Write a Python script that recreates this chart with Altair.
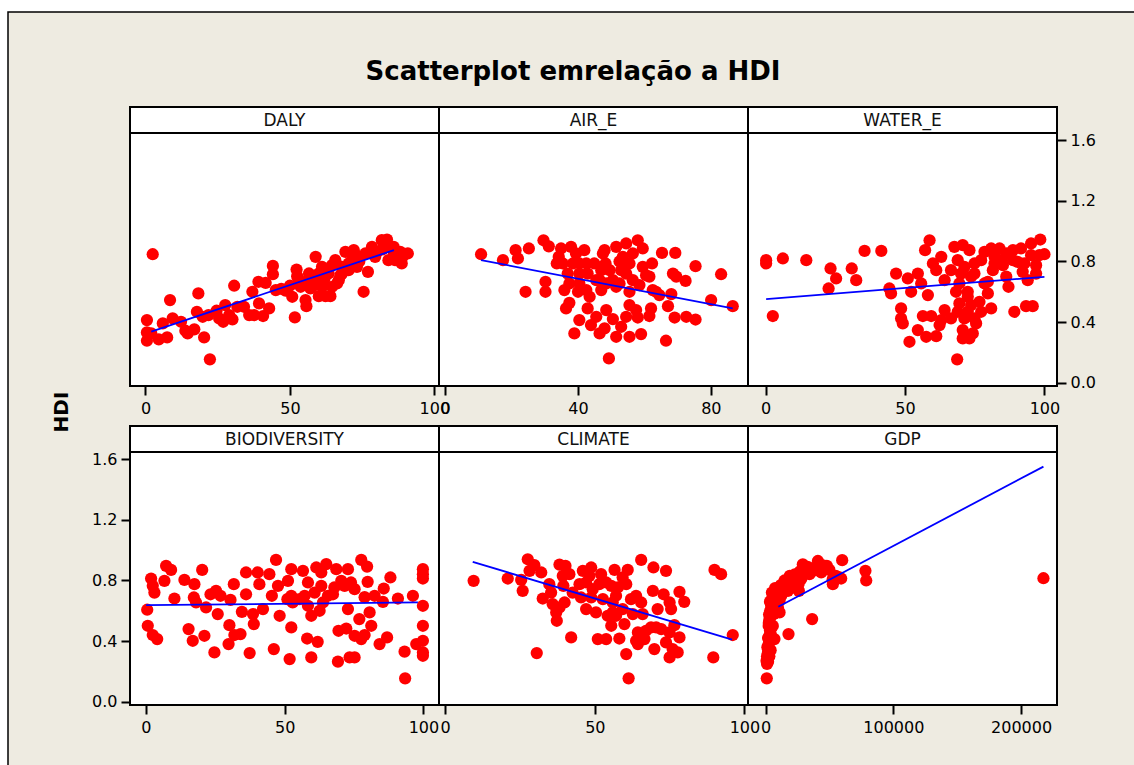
import altair as alt
import pandas as pd

TITLE = "Scatterplot emrelação a HDI"
Y_TITLE = "HDI"
PANEL_NAMES = ["DALY", "AIR_E", "WATER_E", "BIODIVERSITY", "CLIMATE", "GDP"]

X_TICKS = {
    "DALY": [0, 50, 100],
    "AIR_E": [0, 40, 80],
    "WATER_E": [0, 50, 100],
    "BIODIVERSITY": [0, 50, 100],
    "CLIMATE": [0, 50, 100],
    "GDP": [0, 100000, 200000],
}
X_DOMAINS = {
    "DALY": [-5.36, 101.6],
    "AIR_E": [-1.87, 91.2],
    "WATER_E": [-6.3, 104.5],
    "BIODIVERSITY": [-5.7, 105.6],
    "CLIMATE": [-2.07, 101.2],
    "GDP": [-13700, 228100],
}
Y_TICKS = [0.0, 0.4, 0.8, 1.2, 1.6]
Y_DOMAIN = [-0.022, 1.82]

DALY_POINTS = [
    (2.5, 0.848), (0.5, 0.413), (0.5, 0.332), (0.5, 0.277), (2.0, 0.325), (4.6, 0.286),
    (6.0, 0.391), (7.5, 0.299), (8.5, 0.545), (9.4, 0.424), (12.3, 0.402), (13.8, 0.343),
    (14.6, 0.325), (16.9, 0.352), (17.8, 0.468), (18.3, 0.589), (20.3, 0.299), (22.3, 0.154),
    (19.8, 0.435), (21.8, 0.446), (24.6, 0.475), (25.5, 0.424), (26.9, 0.402), (27.6, 0.512),
    (29.0, 0.446), (30.1, 0.418), (30.7, 0.640), (31.8, 0.501), (34.1, 0.501), (35.9, 0.446),
    (37.0, 0.600), (37.6, 0.446), (39.1, 0.666), (39.3, 0.523), (40.7, 0.440), (41.6, 0.659),
    (42.8, 0.490), (44.1, 0.771), (44.1, 0.716), (45.1, 0.611), (48.5, 0.607), (50.8, 0.567),
    (51.7, 0.431), (52.3, 0.747), (52.5, 0.703), (53.7, 0.633), (55.7, 0.505), (56.6, 0.721),
    (57.1, 0.622), (58.9, 0.831), (59.4, 0.666), (60.0, 0.571), (61.1, 0.765), (61.7, 0.666),
    (62.3, 0.571), (63.4, 0.721), (64.0, 0.571), (64.6, 0.776), (65.7, 0.809), (66.3, 0.655),
    (67.5, 0.710), (68.0, 0.765), (69.2, 0.864), (70.3, 0.743), (71.5, 0.809), (72.1, 0.875),
    (73.2, 0.765), (75.5, 0.600), (76.1, 0.853), (77.0, 0.732), (78.4, 0.897), (79.5, 0.831),
    (81.8, 0.941), (83.6, 0.945), (84.1, 0.809), (85.9, 0.897), (86.4, 0.809), (88.2, 0.864),
    (88.7, 0.787), (90.8, 0.853), (55.4, 0.666), (57.7, 0.633), (61.1, 0.633), (64.6, 0.633),
    (66.9, 0.677), (70.3, 0.787), (73.8, 0.831), (60.0, 0.721), (55.4, 0.545), (47.0, 0.620),
    (50.0, 0.640), (53.0, 0.680), (58.0, 0.700), (62.0, 0.690), (68.0, 0.720), (74.0, 0.800),
    (80.0, 0.860), (82.0, 0.880), (84.0, 0.900), (86.0, 0.860), (87.0, 0.840), (89.0, 0.830),
]

AIR_E_POINTS = [
    (10.8, 0.848), (17.4, 0.809), (21.2, 0.875), (21.9, 0.820), (25.2, 0.886), (24.2, 0.600),
    (29.6, 0.940), (31.2, 0.900), (30.2, 0.666), (30.2, 0.600), (33.6, 0.787), (34.9, 0.886),
    (36.4, 0.490), (37.4, 0.527), (35.9, 0.611), (36.9, 0.720), (37.9, 0.897), (39.4, 0.853),
    (40.4, 0.787), (41.9, 0.875), (38.5, 0.787), (37.4, 0.655), (40.4, 0.655), (42.9, 0.720),
    (43.5, 0.567), (42.9, 0.490), (44.9, 0.787), (47.5, 0.853), (48.0, 0.875), (48.3, 0.787),
    (46.5, 0.677), (48.5, 0.655), (47.0, 0.611), (49.5, 0.743), (51.5, 0.897), (54.5, 0.919),
    (58.0, 0.940), (59.5, 0.886), (53.5, 0.830), (55.5, 0.787), (54.5, 0.720), (56.5, 0.677),
    (55.5, 0.600), (51.5, 0.633), (50.5, 0.677), (53.0, 0.743), (59.5, 0.765), (62.3, 0.787),
    (61.5, 0.700), (58.5, 0.644), (62.5, 0.611), (65.3, 0.857), (69.3, 0.857), (75.4, 0.769),
    (83.1, 0.716), (69.6, 0.700), (72.4, 0.672), (68.1, 0.585), (64.5, 0.578), (67.1, 0.505),
    (62.0, 0.490), (61.5, 0.440), (69.1, 0.430), (72.6, 0.435), (75.4, 0.417), (80.1, 0.545),
    (86.6, 0.505), (55.5, 0.512), (57.5, 0.479), (54.5, 0.435), (58.0, 0.430), (48.5, 0.479),
    (45.5, 0.435), (40.4, 0.413), (38.9, 0.325), (43.9, 0.380), (46.5, 0.325), (48.0, 0.358),
    (51.5, 0.303), (50.5, 0.420), (53.0, 0.369), (55.5, 0.303), (59.0, 0.321), (66.5, 0.277),
    (49.3, 0.160), (52.5, 0.655), (40.4, 0.720), (42.5, 0.787), (45.5, 0.677), (47.0, 0.743),
    (42.5, 0.611), (40.0, 0.600), (35.4, 0.787), (34.2, 0.830), (52.5, 0.800), (56.5, 0.853),
    (60.5, 0.709), (63.5, 0.600), (68.6, 0.720),
]

WATER_E_POINTS = [
    (0.2, 0.787), (0.2, 0.809), (2.6, 0.440), (6.2, 0.820), (14.6, 0.809), (23.3, 0.754),
    (25.3, 0.688), (22.6, 0.622), (30.9, 0.754), (32.5, 0.677), (35.5, 0.870), (41.5, 0.870),
    (44.4, 0.622), (45.0, 0.589), (46.8, 0.720), (48.6, 0.490), (48.6, 0.424), (49.2, 0.391),
    (51.6, 0.270), (54.6, 0.347), (57.6, 0.303), (61.2, 0.307), (51.0, 0.688), (54.6, 0.720),
    (52.2, 0.600), (58.2, 0.578), (55.8, 0.655), (58.8, 0.940), (57.2, 0.875), (60.0, 0.787),
    (63.0, 0.831), (61.2, 0.743), (64.2, 0.677), (56.4, 0.440), (59.4, 0.440), (63.0, 0.413),
    (64.2, 0.479), (62.4, 0.380), (66.5, 0.424), (67.7, 0.897), (70.7, 0.908), (68.9, 0.809),
    (66.5, 0.743), (69.5, 0.655), (68.3, 0.600), (72.5, 0.600), (73.7, 0.700), (74.9, 0.787),
    (73.1, 0.875), (78.5, 0.864), (80.9, 0.886), (83.9, 0.886), (86.3, 0.853), (82.1, 0.787),
    (81.5, 0.743), (85.1, 0.776), (86.3, 0.700), (87.1, 0.633), (78.5, 0.655), (79.7, 0.589),
    (80.9, 0.490), (77.3, 0.468), (74.9, 0.424), (72.5, 0.468), (69.5, 0.523), (71.3, 0.424),
    (68.9, 0.468), (70.7, 0.347), (70.7, 0.292), (74.3, 0.325), (73.1, 0.292), (68.7, 0.154),
    (89.2, 0.468), (93.4, 0.505), (95.8, 0.505), (91.6, 0.886), (95.2, 0.919), (98.5, 0.945),
    (100.0, 0.848), (97.0, 0.776), (97.0, 0.720), (94.0, 0.677), (92.2, 0.732), (90.4, 0.798),
    (88.7, 0.809), (74.9, 0.720), (71.3, 0.765), (72.5, 0.567), (70.1, 0.720), (76.7, 0.534),
    (73.7, 0.512), (75.5, 0.391), (79.7, 0.666), (95.2, 0.842), (92.8, 0.787), (98.2, 0.842),
    (88.7, 0.875), (84.5, 0.809), (77.3, 0.809), (82.1, 0.831),
]

BIODIVERSITY_POINTS = [
    (0.5, 0.607), (0.7, 0.501), (1.9, 0.813), (2.5, 0.765), (3.1, 0.720), (2.5, 0.440),
    (4.1, 0.413), (6.7, 0.798), (7.3, 0.897), (9.1, 0.870), (10.3, 0.681), (13.9, 0.804),
    (15.4, 0.479), (16.9, 0.402), (17.5, 0.776), (17.3, 0.688), (18.1, 0.655), (20.3, 0.870),
    (21.1, 0.435), (21.7, 0.622), (23.3, 0.709), (24.7, 0.325), (25.3, 0.732), (25.9, 0.578),
    (26.9, 0.699), (30.1, 0.505), (29.8, 0.380), (30.5, 0.672), (31.7, 0.776), (31.9, 0.440),
    (34.1, 0.446), (34.6, 0.593), (36.1, 0.853), (36.1, 0.709), (37.4, 0.321), (38.6, 0.578),
    (38.9, 0.512), (40.3, 0.853), (40.9, 0.776), (42.2, 0.611), (44.5, 0.842), (45.4, 0.699),
    (46.1, 0.347), (46.9, 0.936), (47.6, 0.765), (48.2, 0.567), (51.2, 0.798), (52.4, 0.875),
    (51.8, 0.281), (52.4, 0.490), (52.9, 0.655), (51.0, 0.677), (56.6, 0.864), (58.4, 0.787),
    (57.2, 0.699), (59.6, 0.567), (58.1, 0.417), (59.6, 0.292), (61.9, 0.395), (61.4, 0.886),
    (65.0, 0.908), (63.2, 0.765), (63.8, 0.655), (62.6, 0.600), (60.8, 0.720), (55.4, 0.677),
    (68.6, 0.875), (67.9, 0.754), (67.4, 0.709), (69.2, 0.264), (69.4, 0.468), (72.8, 0.875),
    (72.8, 0.611), (72.2, 0.483), (73.4, 0.292), (75.2, 0.292), (75.2, 0.435), (73.9, 0.787),
    (75.2, 0.743), (77.6, 0.936), (79.7, 0.892), (79.9, 0.791), (76.9, 0.545), (78.8, 0.440),
    (77.6, 0.413), (80.6, 0.589), (81.2, 0.501), (82.4, 0.699), (84.2, 0.380), (85.7, 0.747),
    (85.4, 0.659), (86.9, 0.424), (88.1, 0.820), (90.8, 0.681), (93.2, 0.330), (93.4, 0.154),
    (96.2, 0.699), (97.4, 0.380), (99.8, 0.875), (99.8, 0.842), (99.8, 0.813), (99.8, 0.633),
    (99.8, 0.501), (99.8, 0.402), (99.8, 0.325), (99.8, 0.303), (52.4, 0.699), (58.4, 0.633),
    (63.2, 0.853), (70.4, 0.798), (65.6, 0.699), (71.6, 0.765), (78.8, 0.690),
]

CLIMATE_POINTS = [
    (9.5, 0.798), (20.9, 0.813), (25.4, 0.804), (25.9, 0.732), (27.6, 0.940), (28.2, 0.864),
    (29.8, 0.901), (32.1, 0.853), (30.6, 0.321), (32.6, 0.681), (34.8, 0.776), (35.9, 0.644),
    (37.1, 0.589), (37.3, 0.534), (38.2, 0.905), (40.2, 0.897), (39.5, 0.765), (39.9, 0.655),
    (42.1, 0.424), (41.5, 0.842), (42.6, 0.720), (46.0, 0.864), (47.1, 0.787), (47.1, 0.611),
    (48.8, 0.886), (49.3, 0.743), (50.4, 0.589), (51.0, 0.413), (52.1, 0.842), (52.7, 0.677),
    (53.8, 0.413), (55.5, 0.501), (55.5, 0.765), (56.6, 0.870), (56.0, 0.589), (57.1, 0.699),
    (58.2, 0.417), (59.3, 0.611), (59.9, 0.512), (59.3, 0.820), (60.5, 0.776), (61.0, 0.870),
    (60.5, 0.314), (61.3, 0.154), (62.1, 0.677), (63.8, 0.699), (64.4, 0.457), (64.4, 0.380),
    (65.5, 0.936), (66.0, 0.578), (66.6, 0.413), (67.1, 0.468), (69.4, 0.732), (69.6, 0.886),
    (69.9, 0.347), (70.5, 0.490), (71.0, 0.611), (73.0, 0.709), (73.8, 0.864), (73.8, 0.391),
    (75.0, 0.655), (75.0, 0.457), (75.5, 0.611), (75.0, 0.292), (76.6, 0.505), (76.0, 0.347),
    (77.7, 0.325), (78.3, 0.424), (78.3, 0.725), (79.9, 0.659), (68.8, 0.490), (72.2, 0.479),
    (90.0, 0.870), (92.2, 0.842), (89.6, 0.292), (96.1, 0.440), (45.4, 0.688), (44.9, 0.776),
    (48.8, 0.688), (51.5, 0.776), (54.3, 0.567), (57.1, 0.567), (62.7, 0.578), (65.5, 0.655),
    (38.2, 0.622), (35.4, 0.720), (39.3, 0.831), (53.8, 0.787), (56.0, 0.655), (57.7, 0.754),
    (48.2, 0.831), (63.8, 0.402),
]

GDP_POINTS = [
    (1000, 0.154), (800, 0.270), (1500, 0.280), (2000, 0.264), (1200, 0.300), (1800, 0.320),
    (2200, 0.347), (1500, 0.360), (2500, 0.380), (3000, 0.400), (2000, 0.420), (3100, 0.435),
    (4000, 0.450), (7000, 0.413), (3500, 0.470), (4400, 0.490), (5700, 0.500), (2600, 0.520),
    (3000, 0.540), (18000, 0.446), (36500, 0.545), (4000, 0.560), (2800, 0.575), (4400, 0.589),
    (11000, 0.589), (3700, 0.600), (6000, 0.610), (5000, 0.620), (9700, 0.622), (4400, 0.635),
    (7000, 0.640), (5500, 0.655), (8300, 0.666), (11000, 0.666), (5200, 0.680), (7000, 0.688),
    (9000, 0.690), (12300, 0.700), (6500, 0.710), (8000, 0.720), (11000, 0.732), (17500, 0.732),
    (10000, 0.740), (13600, 0.754), (25300, 0.743), (15000, 0.760), (16200, 0.776), (24000, 0.776),
    (18000, 0.790), (14900, 0.800), (20100, 0.809), (21400, 0.820), (19000, 0.830), (22000, 0.800),
    (26000, 0.780), (26100, 0.732), (28000, 0.810), (30500, 0.853), (29200, 0.907), (32000, 0.860),
    (34400, 0.842), (37000, 0.864), (35000, 0.880), (39000, 0.870), (41000, 0.929), (43600, 0.853),
    (45000, 0.900), (47500, 0.885), (48000, 0.897), (50000, 0.870), (52600, 0.809), (52700, 0.776),
    (55000, 0.830), (57900, 0.820), (59200, 0.813), (60000, 0.934), (78200, 0.864), (78800, 0.800),
    (217500, 0.815), (3500, 0.660), (2500, 0.500), (6500, 0.580), (9000, 0.640), (12000, 0.770),
    (3000, 0.300), (1200, 0.250), (4000, 0.340), (5000, 0.720), (7500, 0.750), (23000, 0.840),
    (27000, 0.860), (33000, 0.890),
]

POINTS = {
    "DALY": DALY_POINTS,
    "AIR_E": AIR_E_POINTS,
    "WATER_E": WATER_E_POINTS,
    "BIODIVERSITY": BIODIVERSITY_POINTS,
    "CLIMATE": CLIMATE_POINTS,
    "GDP": GDP_POINTS,
}

# fitted line end points
FITS = {
    "DALY": [(2.0, 0.337), (86.0, 0.875)],
    "AIR_E": [(10.8, 0.809), (86.6, 0.490)],
    "WATER_E": [(0.2, 0.552), (100.0, 0.699)],
    "BIODIVERSITY": [(0.1, 0.637), (98.0, 0.655)],
    "CLIMATE": [(9.2, 0.923), (95.9, 0.409)],
    "GDP": [(10000, 0.627), (217500, 1.552)],
}

Y_AXIS_SIDE = {"WATER_E": "right", "BIODIVERSITY": "left"}

W, H, STRIP = 309, 279, 26
BEIGE = "#EEEBE1"
FONT = "DejaVu Sans"


def build_panel(name, first):
    pts_df = pd.DataFrame(POINTS[name], columns=["x", "HDI"])
    fit_df = pd.DataFrame(FITS[name], columns=["x", "HDI"])
    lab_df = pd.DataFrame({"label": [name]})

    x_enc = alt.X(
        "x:Q",
        title=None,
        scale=alt.Scale(domain=X_DOMAINS[name], nice=False, zero=False),
        axis=alt.Axis(values=X_TICKS[name], format="d", title=None, zindex=2),
    )
    side = Y_AXIS_SIDE.get(name)
    if side:
        y_axis = alt.Axis(orient=side, values=Y_TICKS, format=".1f", title=None, zindex=2)
    else:
        y_axis = None
    y_enc = alt.Y(
        "HDI:Q",
        title=None,
        scale=alt.Scale(domain=Y_DOMAIN, nice=False, zero=False),
        axis=y_axis,
    )

    layers = []
    if first:
        frame = alt.Chart(lab_df).mark_rect(
            fill=BEIGE, stroke="black", strokeWidth=1.5
        ).encode(
            x=alt.value(-122), x2=alt.value(1100), y=alt.value(-95), y2=alt.value(800)
        )
        title = alt.Chart(lab_df).mark_text(
            text=TITLE, font=FONT, fontSize=26, fontWeight="bold", color="black",
            align="center", baseline="alphabetic",
        ).encode(x=alt.value(443), y=alt.value(-27))
        ytitle = alt.Chart(lab_df).mark_text(
            text=Y_TITLE, font=FONT, fontSize=20, fontWeight="bold", color="black",
            align="center", baseline="middle", angle=270,
        ).encode(x=alt.value(-68), y=alt.value(305))
        plot_bg = alt.Chart(lab_df).mark_rect(
            fill="white", stroke="black", strokeWidth=2
        ).encode(x=alt.value(0), x2=alt.value(W), y=alt.value(0), y2=alt.value(H))
        layers += [frame, title, ytitle, plot_bg]

    strip = alt.Chart(lab_df).mark_rect(
        fill="white", stroke="black", strokeWidth=2
    ).encode(x=alt.value(0), x2=alt.value(W), y=alt.value(0), y2=alt.value(STRIP))
    strip_text = alt.Chart(lab_df).mark_text(
        font=FONT, fontSize=17, color="#111111", align="center", baseline="middle"
    ).encode(text="label:N", x=alt.value(W / 2), y=alt.value(14))

    points = alt.Chart(pts_df).mark_circle(
        color="#FF0000", opacity=1, size=150
    ).encode(x=x_enc, y=y_enc)
    line = alt.Chart(fit_df).mark_line(
        color="#0000FF", strokeWidth=1.8
    ).encode(x=x_enc, y=y_enc)

    layers += [strip, strip_text, points, line]
    return alt.layer(*layers).properties(width=W, height=H)


cells = [build_panel(n, i == 0) for i, n in enumerate(PANEL_NAMES)]

chart = alt.concat(
    *cells, columns=3, spacing={"row": 40, "column": 0}, bounds="flush"
).properties(
    autosize=alt.AutoSizeParams(type="none"),
    padding={"left": 130, "top": 107, "right": 1004, "bottom": 658},
    background="white",
).configure_view(
    stroke="black", strokeWidth=2, fill="white"
).configure_axis(
    domain=False, grid=False, ticks=True, tickColor="black", tickWidth=2, tickSize=9,
    labelFont=FONT, labelFontSize=16, labelColor="black", labelFlush=False,
    labelOverlap=False,
).configure_axisX(
    labelPadding=5
).configure_axisY(
    labelPadding=4
)

chart.save("out.html", embed_options={"renderer": "svg", "actions": False})
